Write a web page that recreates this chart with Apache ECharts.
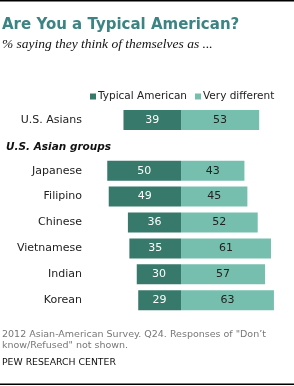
<!DOCTYPE html>
<html><head><meta charset="utf-8">
<script src="https://cdn.jsdelivr.net/npm/echarts@6/dist/echarts.min.js"></script>
<style>html,body{margin:0;padding:0;background:#fff}#c{width:294px;height:386px}</style>
</head><body><div id="c"></div>
<script>
var totalCategory = ['U.S. Asians'];
var totalTypical = [39];
var totalDifferent = [53];
var groupCategories = ['Japanese','Filipino','Chinese','Vietnamese','Indian','Korean'];
var groupTypical = [50,49,36,35,30,29];
var groupDifferent = [43,45,52,61,57,63];
var seriesNames = ['Typical American','Very different'];

var DARK = '#37796a', LIGHT = '#76bfae';
var FONT = 'DejaVu Sans';
var chart = echarts.init(document.getElementById('c'));

function xAxis(i){return {gridIndex:i,type:'value',min:-61.7,max:76.6,show:false};}
function yAxis(i,cats){return {gridIndex:i,type:'category',data:cats,inverse:true,
  axisLine:{show:false},axisTick:{show:false},splitLine:{show:false},
  axisLabel:{margin:8,color:'#222',fontFamily:FONT,fontSize:11}};}
function bars(name,vals,i,color,lblColor,neg){
  return {name:name,type:'bar',xAxisIndex:i,yAxisIndex:i,stack:'s'+i,barWidth:20,
    data:vals.map(function(v){return neg?-v:v;}),
    itemStyle:{color:color},
    label:{show:true,position:'inside',color:lblColor,fontFamily:FONT,fontSize:11,
      formatter:function(p){return Math.abs(p.value);}}};
}
chart.setOption({
  animation:false,
  legend:{data:seriesNames,left:85,top:86,icon:'rect',itemWidth:6,itemHeight:6,itemGap:8,
    textStyle:{fontFamily:FONT,fontSize:10.5,color:'#222',padding:[0,0,0,-3]}},
  grid:[{left:90,right:0,top:107,height:26},{left:90,right:0,top:157.75,height:155.4}],
  xAxis:[xAxis(0),xAxis(1)],
  yAxis:[yAxis(0,totalCategory),yAxis(1,groupCategories)],
  series:[
    bars(seriesNames[0],totalTypical,0,DARK,'#fff',true),
    bars(seriesNames[1],totalDifferent,0,LIGHT,'#222',false),
    bars(seriesNames[0],groupTypical,1,DARK,'#fff',true),
    bars(seriesNames[1],groupDifferent,1,LIGHT,'#222',false)
  ],
  graphic:[
    {type:'rect',shape:{x:0,y:0,width:294,height:1.5},style:{fill:'#000'}},
    {type:'rect',shape:{x:0,y:383.5,width:294,height:1.5},style:{fill:'#000'}},
    {type:'text',x:2,y:25,style:{text:'Are You a Typical American?',fill:'#3c8384',
      font:'bold 15px "DejaVu Sans"',textVerticalAlign:'middle'}},
    {type:'text',x:2,y:44,style:{text:'% saying they think of themselves as ...',fill:'#111',
      font:'italic 13.5px "Liberation Serif"',textVerticalAlign:'middle'}},
    {type:'text',x:6,y:147,style:{text:'U.S. Asian groups',fill:'#111',
      font:'bold italic 10.5px "DejaVu Sans"',textVerticalAlign:'middle'}},
    {type:'text',x:2,y:335,style:{text:'2012 Asian-American Survey. Q24. Responses of "Don\u2019t',fill:'#777',
      font:'9.5px "DejaVu Sans"',textVerticalAlign:'middle'}},
    {type:'text',x:2,y:346,style:{text:'know/Refused" not shown.',fill:'#777',
      font:'9.5px "DejaVu Sans"',textVerticalAlign:'middle'}},
    {type:'text',x:2,y:363,style:{text:'PEW RESEARCH CENTER',fill:'#111',
      font:'9.3px "DejaVu Sans"',textVerticalAlign:'middle'}}
  ]
});
</script></body></html>
